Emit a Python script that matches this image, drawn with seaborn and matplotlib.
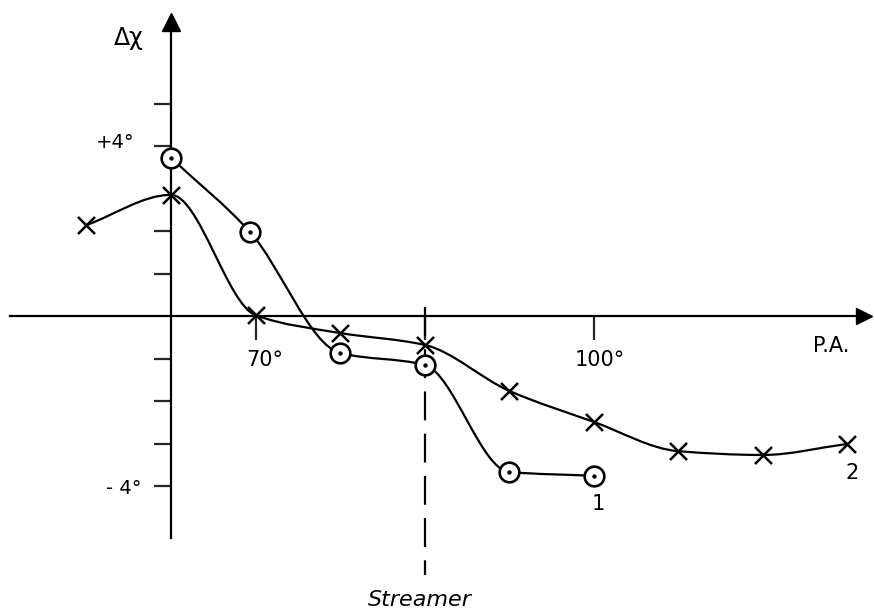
import numpy as np
import pandas as pd
import matplotlib
matplotlib.use("Agg")
import matplotlib.pyplot as plt
from matplotlib.path import Path
from matplotlib.patches import PathPatch
import seaborn as sns

# ---- data ----
pa_cross = [55.0, 62.5, 70.0, 77.5, 85.0, 92.5, 100.0, 107.5, 115.0, 122.5]
dchi_cross = [2.14, 2.85, 0.02, -0.40, -0.68, -1.76, -2.49, -3.18, -3.27, -3.01]
pa_circle = [62.5, 69.5, 77.5, 85.0, 92.5, 100.0]
dchi_circle = [3.72, 1.98, -0.87, -1.15, -3.67, -3.76]
streamer_pa = 85.0
yticks = [-4, -3, -2, -1, 1, 2, 4, 5]
xticks = [70, 85, 100]
xtick_labels = ["70°", "100°"]
ytick_labels = ["+4°", "- 4°"]

sns.set_style("white")
plt.rcParams["font.family"] = ["DejaVu Sans"]

W, H = 874, 613
fig = plt.figure(figsize=(W / 100, H / 100), dpi=100)
ax = fig.add_axes([0, 0, 1, 1])

PX_X = 11.27   # px per degree PA
PX_Y = 42.5    # px per degree dchi
X0_PX, Y0_PX = 171, 316
def px2x(px):
    return 62.5 + (px - X0_PX) / PX_X
def px2y(py):
    return (Y0_PX - py) / PX_Y

ax.set_xlim(px2x(0), px2x(W))
ax.set_ylim(px2y(H), px2y(0))

def smooth_path(xs, ys):
    """Monotone cubic (Fritsch-Carlson) drawn as Bezier segments."""
    x = np.asarray(xs, float)
    y = np.asarray(ys, float)
    n = len(x)
    h = np.diff(x)
    d = np.diff(y) / h
    m = np.zeros(n)
    m[0], m[-1] = d[0], d[-1]
    for i in range(1, n - 1):
        if d[i - 1] * d[i] <= 0:
            m[i] = 0.0
        else:
            w1 = 2 * h[i] + h[i - 1]
            w2 = h[i] + 2 * h[i - 1]
            m[i] = (w1 + w2) / (w1 / d[i - 1] + w2 / d[i])
    verts = [(x[0], y[0])]
    codes = [Path.MOVETO]
    for i in range(n - 1):
        c1 = (x[i] + h[i] / 3, y[i] + m[i] * h[i] / 3)
        c2 = (x[i + 1] - h[i] / 3, y[i + 1] - m[i + 1] * h[i] / 3)
        verts += [c1, c2, (x[i + 1], y[i + 1])]
        codes += [Path.CURVE4] * 3
    return Path(verts, codes)

lw = 1.6
for xs, ys in [(pa_cross, dchi_cross), (pa_circle, dchi_circle)]:
    ax.add_patch(PathPatch(smooth_path(xs, ys), facecolor="none",
                           edgecolor="black", lw=lw, zorder=3))

df_cross = pd.DataFrame({"PA": pa_cross, "dchi": dchi_cross})
df_circle = pd.DataFrame({"PA": pa_circle, "dchi": dchi_circle})

sns.scatterplot(data=df_cross, x="PA", y="dchi", ax=ax, marker="x",
                color="black", s=150, linewidth=1.8, zorder=5)
sns.scatterplot(data=df_circle, x="PA", y="dchi", ax=ax, marker="o",
                facecolor="white", edgecolor="black", s=200, linewidth=1.9,
                zorder=5)
sns.scatterplot(data=df_circle, x="PA", y="dchi", ax=ax, marker="o",
                color="black", s=10, linewidth=0, zorder=6)

# axes drawn as spines through the origin
for s in ["top", "right"]:
    ax.spines[s].set_visible(False)
ax.spines["left"].set_position(("data", 62.5))
ax.spines["bottom"].set_position(("data", 0))
ax.spines["left"].set_bounds(px2y(538), px2y(25))
ax.spines["bottom"].set_bounds(px2x(10), px2x(862))
for s in ["left", "bottom"]:
    ax.spines[s].set_linewidth(1.6)
    ax.spines[s].set_color("black")

ax.set_yticks(yticks)
ax.set_yticklabels([])
ax.set_xticks(xticks)
ax.set_xticklabels([])
ax.tick_params(axis="y", direction="out", length=12, width=1.6, left=True)
ax.tick_params(axis="x", direction="out", length=17, width=1.6, bottom=True)
ax.set_xlabel("")
ax.set_ylabel("")

# arrowheads
ax.plot([px2x(864)], [0], marker=">", color="black", markersize=12,
        clip_on=False, zorder=6)
ax.plot([62.5], [px2y(22)], marker="^", color="black", markersize=13,
        clip_on=False, zorder=6)

# streamer
ax.plot([streamer_pa, streamer_pa], [px2y(307), px2y(575)], color="black",
        lw=1.6, dashes=(13, 6), zorder=2)

def txt(px, py, s, **kw):
    ax.text(px / W, 1 - py / H, s, transform=ax.transAxes, color="black", **kw)

fs = 15
txt(265, 360, xtick_labels[0], fontsize=fs, ha="center", va="center")
txt(600, 360, xtick_labels[1], fontsize=fs, ha="center", va="center")
txt(134, 143, ytick_labels[0], fontsize=14, ha="right", va="center")
txt(141, 488, ytick_labels[1], fontsize=14, ha="right", va="center")
txt(831, 346, "P.A.", fontsize=15, ha="center", va="center")
txt(129, 38, "Δχ", fontsize=17, ha="center", va="center")
txt(598, 504, "1", fontsize=fs, ha="center", va="center")
txt(852, 473, "2", fontsize=fs, ha="center", va="center")
txt(420, 600, "Streamer", fontsize=16, ha="center", va="center", style="italic")

fig.savefig("out.png", dpi=100)
